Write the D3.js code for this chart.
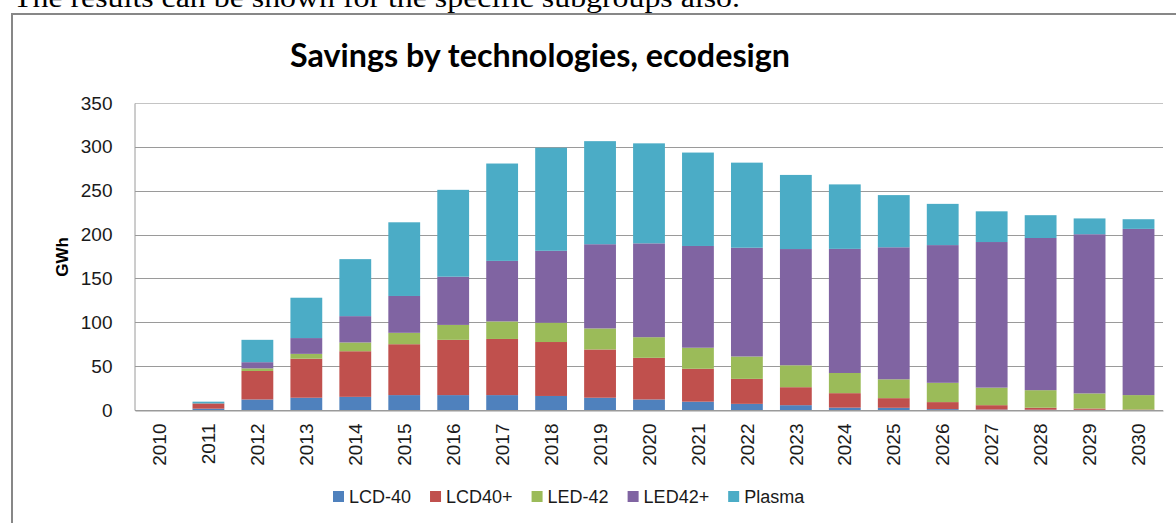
<!DOCTYPE html>
<html>
<head>
<meta charset="utf-8">
<script src="https://cdn.jsdelivr.net/npm/d3@7"></script>
<style>
  html, body { margin: 0; padding: 0; background: #fff; overflow: hidden; }
  svg { display: block; }
</style>
</head>
<body>
<svg id="chart" width="1176" height="523"></svg>
<script>
const years = ['2010','2011','2012','2013','2014','2015','2016','2017','2018','2019','2020',
  '2021','2022','2023','2024','2025','2026','2027','2028','2029','2030'];
const seriesNames = ['LCD-40', 'LCD40+', 'LED-42', 'LED42+', 'Plasma'];
const seriesColors = ['#4F81BD', '#C0504D', '#9BBB59', '#8064A2', '#4BACC6'];

// GWh per technology
const lcd40 = [0, 1.5, 12, 14, 15, 17, 17, 17, 16, 14, 12, 9.5, 7, 5.5, 2.7, 2.5, 1, 0.5, 0.3, 0.2, 0];
const lcd40plus = [0, 6, 32.5, 44.5, 52, 58, 63, 64, 61.5, 55, 47.5, 37.5, 28.5, 20.5, 16.5, 11, 8, 5, 2.3, 1.5, 0.5];
const led42 = [0, 0, 3, 5.5, 10, 13, 17, 20, 22, 24, 23.5, 24, 25.5, 25, 23, 21.5, 22, 20, 20, 17.2, 16.5];
const led42plus = [0, 0, 7, 18, 30, 42, 55, 69, 82, 96, 107, 116, 124, 132.5, 141.5, 150.5, 157, 166, 173.5, 181.5, 189.5];
const plasma = [0, 2, 25.5, 46, 65, 84, 99, 111, 117.5, 117.5, 114, 106.5, 97, 84.5, 73.5, 59.5, 47, 35, 26, 18, 11];

const yTicks = [0, 50, 100, 150, 200, 250, 300, 350];

const rows = years.map((yr, i) => ({
  year: yr,
  'LCD-40': lcd40[i],
  'LCD40+': lcd40plus[i],
  'LED-42': led42[i],
  'LED42+': led42plus[i],
  'Plasma': plasma[i]
}));

const svg = d3.select('#chart');

// text line above the chart (cut by the page top, as in the source)
svg.append('text')
  .attr('x', 13).attr('y', 7)
  .attr('font-family', 'Liberation Serif, Times New Roman, serif')
  .attr('font-size', 28)
  .attr('textLength', 727)
  .attr('lengthAdjust', 'spacingAndGlyphs')
  .attr('fill', '#000')
  .text('The results can be shown for the specific subgroups also.');

// chart frame, runs past the right and bottom edge
svg.append('rect')
  .attr('x', 12).attr('y', 14)
  .attr('width', 1300).attr('height', 700)
  .attr('fill', '#fff')
  .attr('stroke', '#878787')
  .attr('stroke-width', 2);

svg.append('text')
  .attr('x', 540).attr('y', 67)
  .attr('text-anchor', 'middle')
  .attr('font-family', 'Lato, Open Sans, sans-serif')
  .attr('font-weight', 700)
  .attr('font-size', 33)
  .attr('textLength', 500)
  .attr('lengthAdjust', 'spacingAndGlyphs')
  .attr('fill', '#000')
  .text('Savings by technologies, ecodesign');

const x = d3.scaleBand()
  .domain(years)
  .range([135, 1163])
  .paddingInner(0.35)
  .paddingOuter(0.175);

const y = d3.scaleLinear()
  .domain([0, 350])
  .range([410, 103]);

// gridlines
svg.append('g')
  .selectAll('line')
  .data(yTicks)
  .join('line')
  .attr('x1', 135).attr('x2', 1163)
  .attr('y1', d => Math.round(y(d)) + 0.5)
  .attr('y2', d => Math.round(y(d)) + 0.5)
  .attr('stroke', d => d === 350 ? '#c4c4c4' : '#9a9a9a')
  .attr('stroke-width', 1);

// y axis
const yAxis = svg.append('g')
  .attr('transform', 'translate(134.5,0)')
  .call(d3.axisLeft(y).tickValues(yTicks).tickSize(0).tickPadding(22));
yAxis.select('.domain').attr('stroke', '#9a9a9a');
yAxis.selectAll('text')
  .attr('font-family', 'Liberation Sans, Arial, sans-serif')
  .attr('font-size', 19)
  .attr('fill', '#1a1a1a');

svg.append('text')
  .attr('transform', 'translate(68,257) rotate(-90)')
  .attr('text-anchor', 'middle')
  .attr('font-family', 'Liberation Sans, Arial, sans-serif')
  .attr('font-weight', 700)
  .attr('font-size', 17)
  .attr('fill', '#000')
  .text('GWh');

// stacked bars
const stack = d3.stack().keys(seriesNames);
const layers = stack(rows);

svg.append('g')
  .selectAll('g')
  .data(layers)
  .join('g')
  .attr('fill', (d, i) => seriesColors[i])
  .selectAll('rect')
  .data(d => d)
  .join('rect')
  .attr('x', d => x(d.data.year))
  .attr('width', x.bandwidth())
  .attr('y', d => y(d[1]))
  .attr('height', d => y(d[0]) - y(d[1]));

// x axis
const xAxis = svg.append('g')
  .attr('transform', 'translate(0,410.5)')
  .call(d3.axisBottom(x).tickSize(0).tickSizeOuter(0));
xAxis.select('.domain').attr('stroke', '#9a9a9a');
xAxis.selectAll('text')
  .attr('font-family', 'Liberation Sans, Arial, sans-serif')
  .attr('font-size', 19)
  .attr('fill', '#1a1a1a')
  .attr('text-anchor', 'end')
  .attr('transform', 'rotate(-90)')
  .attr('x', -13)
  .attr('y', 0)
  .attr('dy', '0.35em');

// legend
const legend = svg.append('g');
let lx = 333;
seriesNames.forEach((name, i) => {
  legend.append('rect')
    .attr('x', lx).attr('y', 491)
    .attr('width', 11).attr('height', 11)
    .attr('fill', seriesColors[i]);
  const t = legend.append('text')
    .attr('x', lx + 16).attr('y', 503)
    .attr('font-family', 'Liberation Sans, Arial, sans-serif')
    .attr('font-size', 18)
    .attr('fill', '#1a1a1a')
    .text(name);
  lx += 16 + t.node().getComputedTextLength() + 19;
});
</script>
</body>
</html>
